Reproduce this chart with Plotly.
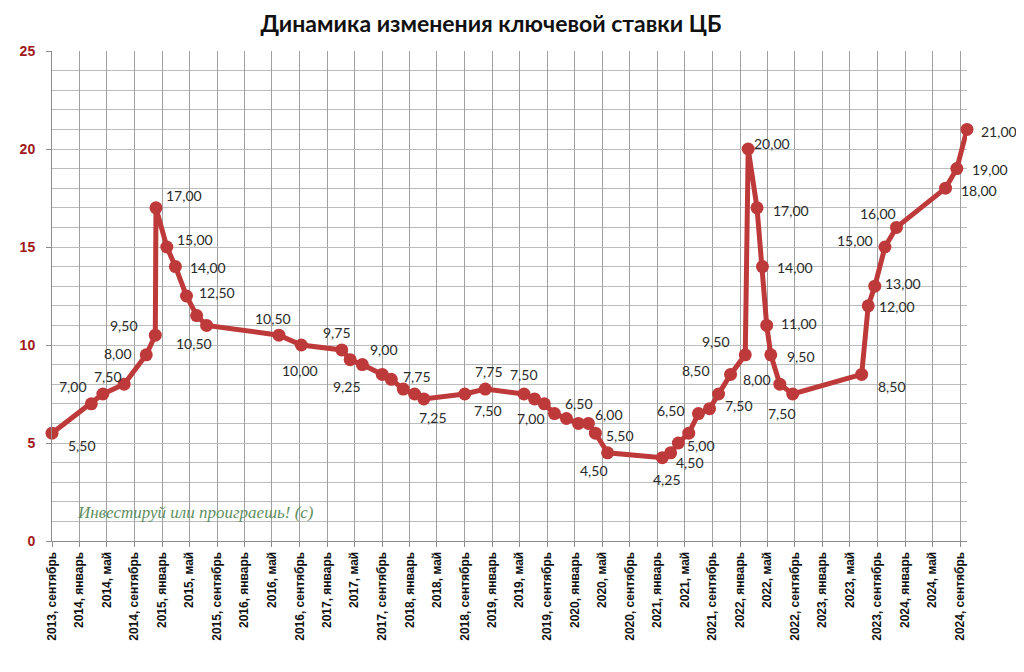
import plotly.graph_objects as go

# ---- data ----
dates = [
    "2013-09-01", "2014-02-22", "2014-04-14", "2014-07-17", "2014-10-23", "2014-12-02",
    "2014-12-05", "2015-01-22", "2015-03-01", "2015-04-19", "2015-06-03", "2015-07-17",
    "2016-06-01", "2016-09-08", "2017-03-06", "2017-04-12", "2017-06-05", "2017-09-01",
    "2017-10-11", "2017-12-03", "2018-01-22", "2018-03-04", "2018-09-01", "2018-12-01",
    "2019-05-21", "2019-07-07", "2019-08-19", "2019-10-03", "2019-11-25", "2020-01-17",
    "2020-03-01", "2020-04-01", "2020-05-25", "2021-01-22", "2021-02-28", "2021-04-03",
    "2021-05-19", "2021-07-01", "2021-08-19", "2021-09-28", "2021-11-20", "2022-01-24",
    "2022-02-06", "2022-03-17", "2022-04-10", "2022-04-29", "2022-05-17", "2022-06-26",
    "2022-08-22", "2023-06-23", "2023-07-22", "2023-08-20", "2023-10-04", "2023-11-24",
    "2024-06-28", "2024-08-17", "2024-10-01",
]
rates = [
    5.50, 7.00, 7.50, 8.00, 9.50, 10.50,
    17.00, 15.00, 14.00, 12.50, 11.50, 11.00,
    10.50, 10.00, 9.75, 9.25, 9.00, 8.50,
    8.25, 7.75, 7.50, 7.25, 7.50, 7.75,
    7.50, 7.25, 7.00, 6.50, 6.25, 6.00,
    6.00, 5.50, 4.50, 4.25, 4.50, 5.00,
    5.50, 6.50, 6.75, 7.50, 8.50, 9.50,
    20.00, 17.00, 14.00, 11.00, 9.50, 8.00,
    7.50, 8.50, 12.00, 13.00, 15.00, 16.00,
    18.00, 19.00, 21.00,
]
labels = [
    "5,50", "7,00", "7,50", "8,00", "9,50", "10,50",
    "17,00", "15,00", "14,00", "12,50", "", "",
    "10,50", "10,00", "9,75", "9,25", "9,00", "",
    "", "7,75", "", "7,25", "7,50", "7,75",
    "7,50", "", "7,00", "6,50", "", "",
    "6,00", "5,50", "4,50", "4,25", "4,50", "5,00",
    "", "6,50", "", "7,50", "8,50", "9,50",
    "20,00", "17,00", "14,00", "11,00", "9,50", "8,00",
    "7,50", "8,50", "12,00", "13,00", "15,00", "16,00",
    "18,00", "19,00", "21,00",
]
tick_dates = [
    "2013-09-01", "2014-01-01", "2014-05-01", "2014-09-01", "2015-01-01", "2015-05-01",
    "2015-09-01", "2016-01-01", "2016-05-01", "2016-09-01", "2017-01-01", "2017-05-01",
    "2017-09-01", "2018-01-01", "2018-05-01", "2018-09-01", "2019-01-01", "2019-05-01",
    "2019-09-01", "2020-01-01", "2020-05-01", "2020-09-01", "2021-01-01", "2021-05-01",
    "2021-09-01", "2022-01-01", "2022-05-01", "2022-09-01", "2023-01-01", "2023-05-01",
    "2023-09-01", "2024-01-01", "2024-05-01", "2024-09-01",
]
tick_labels = [
    "2013, сентябрь", "2014, январь", "2014, май", "2014, сентябрь", "2015, январь", "2015, май",
    "2015, сентябрь", "2016, январь", "2016, май", "2016, сентябрь", "2017, январь", "2017, май",
    "2017, сентябрь", "2018, январь", "2018, май", "2018, сентябрь", "2019, январь", "2019, май",
    "2019, сентябрь", "2020, январь", "2020, май", "2020, сентябрь", "2021, январь", "2021, май",
    "2021, сентябрь", "2022, январь", "2022, май", "2022, сентябрь", "2023, январь", "2023, май",
    "2023, сентябрь", "2024, январь", "2024, май", "2024, сентябрь",
]

# ---- label offsets in pixels (style only): (dx right, dy down) ----
label_offsets = [
    (30, 12), (-18, -17), (5, -18), (-6, -31), (-22, -29), (39, 8),
    (28, -12), (28, -8), (33, 1), (31, -4), (0, 0), (0, 0),
    (-6, -17), (-1, 25), (-5, -17), (-3, 27), (22, -15), (0, 0),
    (0, 0), (14, -13), (0, 0), (9, 19), (23, 16), (4, -18),
    (0, -20), (0, 0), (-13, 15), (25, -10), (0, 0), (0, 0),
    (21, -9), (25, 2), (-14, 18), (5, 22), (19, 10), (23, 2),
    (0, 0), (-27, -3), (0, 0), (20, 11), (-35, -4), (-29, -13),
    (24, -6), (34, 3), (33, 1), (32, -2), (30, 2), (-23, -5),
    (-11, 19), (30, 12), (29, 1), (28, -3), (-30, -7), (-18, -14),
    (33, 2), (33, 1), (32, 2),
]

RED = "#be3a3a"
GRID_H = "#bcbcbc"
GRID_V = "#a0a0a0"

fig = go.Figure()
fig.add_trace(go.Scatter(
    x=dates, y=rates,
    mode="lines+markers",
    line=dict(color=RED, width=5),
    marker=dict(color=RED, size=13),
    cliponaxis=False,
    hoverinfo="x+y",
    showlegend=False,
))

for d, r, t, (dx, dy) in zip(dates, rates, labels, label_offsets):
    if not t:
        continue
    fig.add_annotation(
        x=d, y=r, text=t, showarrow=False,
        xanchor="center", yanchor="middle",
        xshift=dx, yshift=-dy,
        font=dict(family="Lato", size=14, color="#2a2a2a"),
    )

# page body has an 8px margin; figure is sized to fit the 1024x672 window
W, H = 1008, 656
fig.update_layout(
    width=W, height=H,
    margin=dict(l=38, r=49, t=43, b=123),
    paper_bgcolor="white", plot_bgcolor="white",
    title=dict(
        text="<b>Динамика изменения ключевой ставки ЦБ</b>",
        font=dict(family="Lato", size=23, color="#111111"),
        x=(491 - 8) / W, xanchor="center", xref="container",
        y=1 - (24 - 8) / H, yanchor="middle", yref="container",
    ),
    xaxis=dict(
        type="date",
        range=["2013-09-01", "2024-10-01"],
        tickmode="array", tickvals=tick_dates,
        ticktext=["<b>" + s + "</b>" for s in tick_labels],
        tickangle=-90,
        tickfont=dict(family="Liberation Sans", size=12, color="#111111", weight="bold"),
        showgrid=True, gridcolor=GRID_V, gridwidth=1,
        showline=True, linecolor="#8c8c8c", linewidth=1,
        ticks="outside", ticklen=5, tickcolor="#8c8c8c",
        zeroline=False,
    ),
    yaxis=dict(
        range=[0, 25], dtick=5, tick0=0,
        tickfont=dict(family="Liberation Sans", size=14, color="#a01818", weight="bold"),
        showgrid=True, gridcolor=GRID_H, gridwidth=1,
        minor=dict(dtick=1, showgrid=True, gridcolor=GRID_H, gridwidth=1),
        showline=True, linecolor="#8c8c8c", linewidth=1,
        ticks="outside", ticklen=5, tickcolor="#8c8c8c",
        ticklabelstandoff=8,
        zeroline=False,
    ),
)

fig.add_annotation(
    text="<i>Инвестируй или проиграешь! (с)</i>",
    xref="paper", yref="paper",
    x=(190 - 46) / 921, y=(541 - 512) / 490,
    xanchor="center", yanchor="middle",
    showarrow=False,
    font=dict(family="Liberation Serif", size=17, color="#5f8f5f"),
)

fig.write_html("out.html")
